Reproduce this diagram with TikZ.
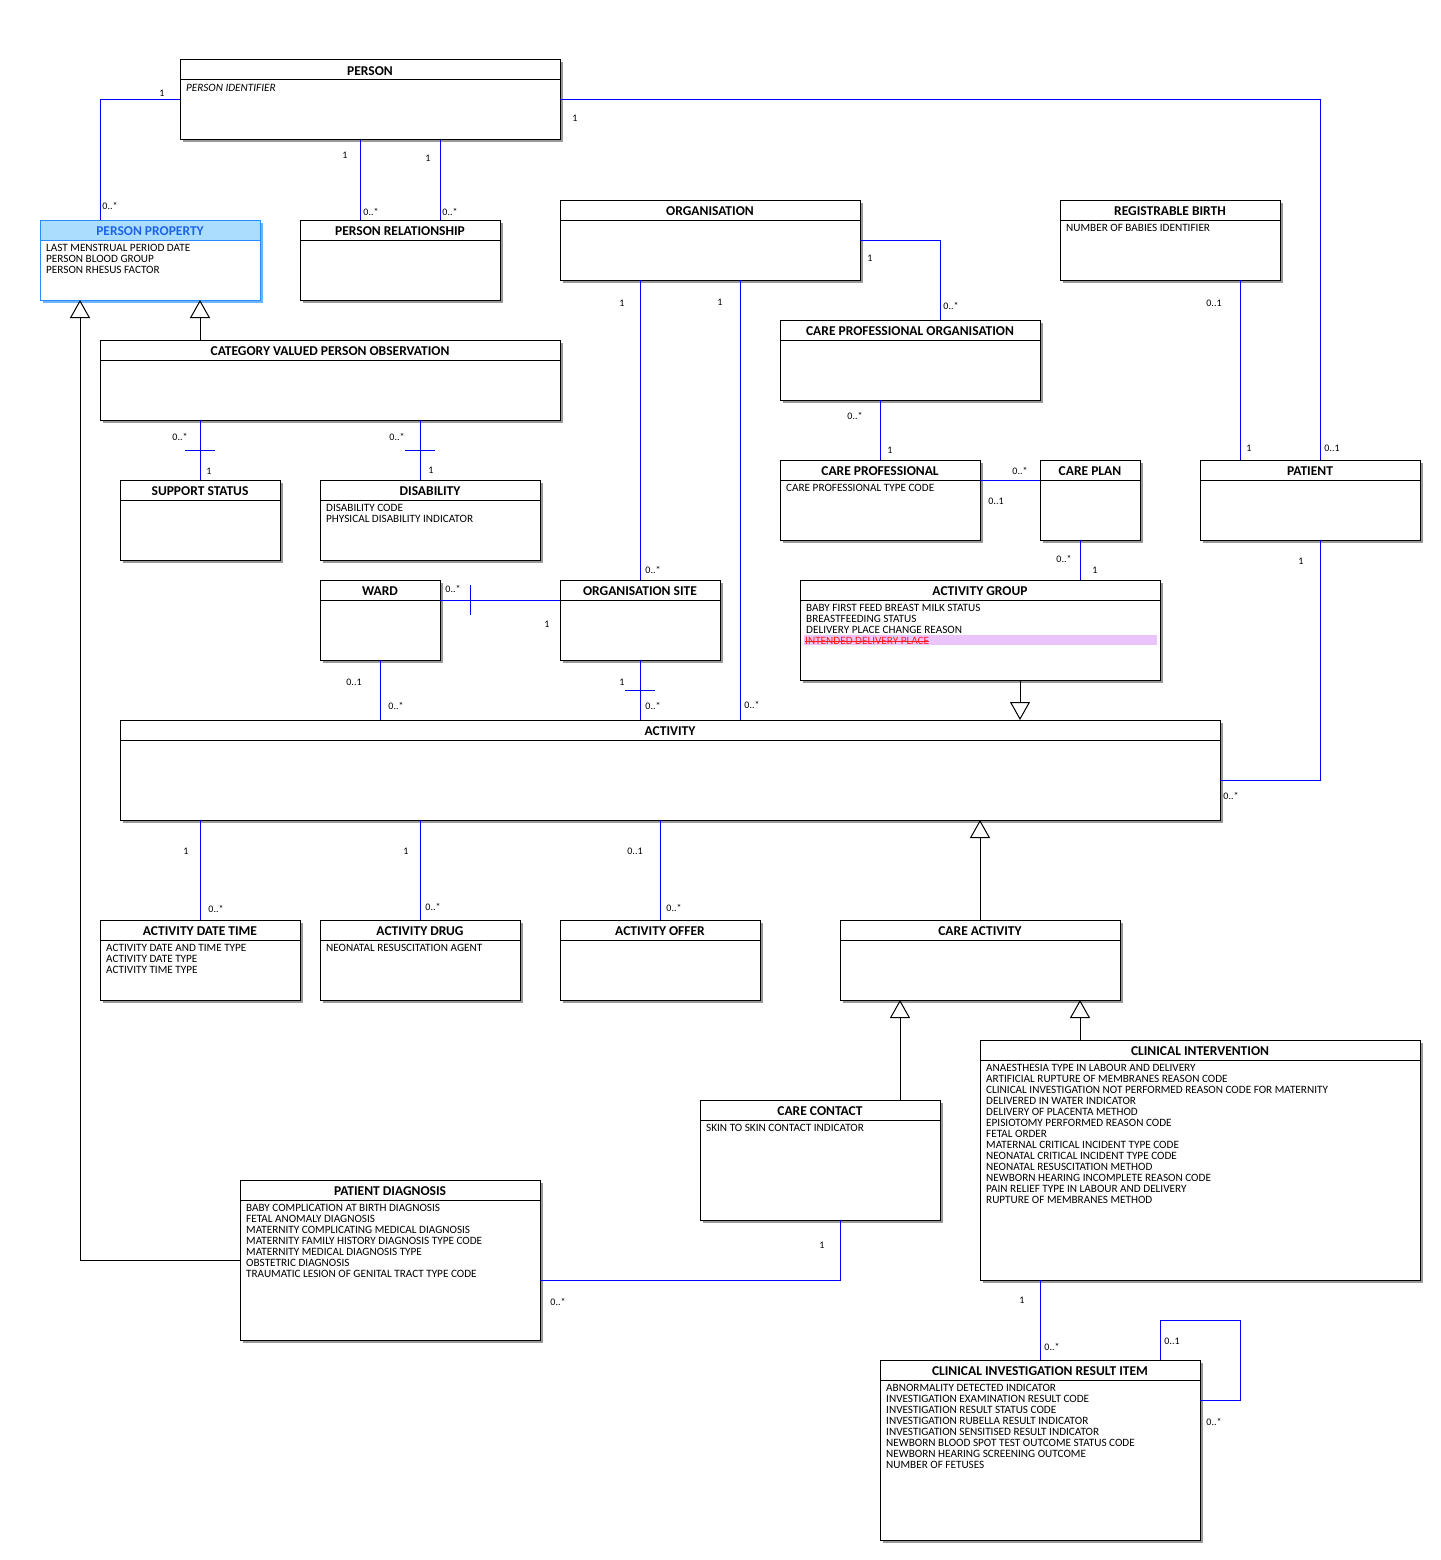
\documentclass[tikz,border=0pt]{standalone}
\usepackage{fontspec}
\setmainfont{Carlito}
\usetikzlibrary{arrows.meta,shadows}

\definecolor{assocblu}{RGB}{0,0,255}
\definecolor{pblu}{RGB}{40,140,255}
\definecolor{pbluchiaro}{RGB}{170,221,255}
\definecolor{pbluombra}{RGB}{110,180,255}
\definecolor{ptitolo}{RGB}{30,100,235}
\definecolor{rosa}{RGB}{234,196,250}
\definecolor{rosso}{RGB}{255,30,30}

\tikzset{
  classe base/.style={draw, fill=white, line width=1pt, anchor=north west, inner sep=0, outer sep=0},
  classe/.style={classe base, drop shadow={shadow xshift=2.5pt, shadow yshift=-2.5pt, fill=black!40, opacity=1}},
  titolo/.style={font=\bfseries\fontsize{13.5}{14}\selectfont, inner sep=0},
  attributi/.style={font=\fontsize{11.2}{11}\selectfont, align=left, anchor=north west, inner sep=0},
  mult/.style={font=\fontsize{10}{10}\selectfont, inner sep=0},
  assoc/.style={draw=assocblu, line width=1pt},
  gen/.style={draw=black, line width=1pt, -{Triangle[open, length=18pt, width=20pt]}},
}

% classe: nome, x, y, larghezza, altezza, titolo, attributi
\newcommand{\classe}[7]{%
  \node[classe, minimum width=#4, minimum height=#5] (#1) at (#2,#3) {};
  \draw[line width=1pt] ([yshift=-20]#1.north west) -- ([yshift=-20]#1.north east);
  \node[titolo] (#1-t) at ([yshift=-10.8]#1.north) {#6};
  \node[attributi] (#1-a) at ([xshift=6,yshift=-24.2]#1.north west) {#7};
}

\begin{document}
\begin{tikzpicture}[x=1pt, y=-1pt]
  \fill[white] (0,0) rectangle (1440,1560);
  \useasboundingbox (0,0) rectangle (1440,1560);

  % Classi
  \classe{person}{180}{60}{380}{80}{PERSON}{\itshape PERSON IDENTIFIER}
  \node[classe base, draw=pblu, drop shadow={shadow xshift=2.5pt, shadow yshift=-2.5pt, fill=pbluombra, opacity=1},
    path picture={\fill[pbluchiaro] (path picture bounding box.north west) rectangle ([yshift=-20]path picture bounding box.north east);},
    minimum width=220, minimum height=80] (ppty) at (40,220) {};
  \draw[pblu, line width=1pt] ([yshift=-20]ppty.north west) -- ([yshift=-20]ppty.north east);
  \node[titolo, text=ptitolo] (ppty-t) at ([yshift=-10.8]ppty.north) {PERSON PROPERTY};
  \node[attributi] (ppty-a) at ([xshift=6,yshift=-24.2]ppty.north west) {LAST MENSTRUAL PERIOD DATE\\PERSON BLOOD GROUP\\PERSON RHESUS FACTOR};
  \classe{pprel}{300}{220}{200}{80}{PERSON RELATIONSHIP}{}
  \classe{org}{560}{200}{300}{80}{ORGANISATION}{}
  \classe{regbirth}{1060}{200}{220}{80}{REGISTRABLE BIRTH}{NUMBER OF BABIES IDENTIFIER}
  \classe{cpo}{780}{320}{260}{80}{CARE PROFESSIONAL ORGANISATION}{}
  \classe{cvpo}{100}{340}{460}{80}{CATEGORY VALUED PERSON OBSERVATION}{}
  \classe{support}{120}{480}{160}{80}{SUPPORT STATUS}{}
  \classe{disab}{320}{480}{220}{80}{DISABILITY}{DISABILITY CODE\\PHYSICAL DISABILITY INDICATOR}
  \classe{carepro}{780}{460}{200}{80}{CARE PROFESSIONAL}{CARE PROFESSIONAL TYPE CODE}
  \classe{careplan}{1040}{460}{100}{80}{CARE PLAN}{}
  \classe{patient}{1200}{460}{220}{80}{PATIENT}{}
  \classe{ward}{320}{580}{120}{80}{WARD}{}
  \classe{orgsite}{560}{580}{160}{80}{ORGANISATION SITE}{}
  \classe{actgroup}{800}{580}{360}{100}{ACTIVITY GROUP}{BABY FIRST FEED BREAST MILK STATUS\\BREASTFEEDING STATUS\\DELIVERY PLACE CHANGE REASON}
  \fill[rosa] ([xshift=4,yshift=-55]actgroup.north west) rectangle ([xshift=-3,yshift=-65]actgroup.north east);
  \node[attributi, text=rosso] (strike) at ([xshift=5,yshift=-57.2]actgroup.north west) {INTENDED DELIVERY PLACE};
  \draw[rosso, line width=0.8pt] (strike.west) -- (strike.east);
  \classe{activity}{120}{720}{1100}{100}{ACTIVITY}{}
  \classe{adt}{100}{920}{200}{80}{ACTIVITY DATE TIME}{ACTIVITY DATE AND TIME TYPE\\ACTIVITY DATE TYPE\\ACTIVITY TIME TYPE}
  \classe{adrug}{320}{920}{200}{80}{ACTIVITY DRUG}{NEONATAL RESUSCITATION AGENT}
  \classe{aoffer}{560}{920}{200}{80}{ACTIVITY OFFER}{}
  \classe{careact}{840}{920}{280}{80}{CARE ACTIVITY}{}
  \classe{clinint}{980}{1040}{440}{240}{CLINICAL INTERVENTION}{ANAESTHESIA TYPE IN LABOUR AND DELIVERY\\ARTIFICIAL RUPTURE OF MEMBRANES REASON CODE\\CLINICAL INVESTIGATION NOT PERFORMED REASON CODE FOR MATERNITY\\DELIVERED IN WATER INDICATOR\\DELIVERY OF PLACENTA METHOD\\EPISIOTOMY PERFORMED REASON CODE\\FETAL ORDER\\MATERNAL CRITICAL INCIDENT TYPE CODE\\NEONATAL CRITICAL INCIDENT TYPE CODE\\NEONATAL RESUSCITATION METHOD\\NEWBORN HEARING INCOMPLETE REASON CODE\\PAIN RELIEF TYPE IN LABOUR AND DELIVERY\\RUPTURE OF MEMBRANES METHOD}
  \classe{carecontact}{700}{1100}{240}{120}{CARE CONTACT}{SKIN TO SKIN CONTACT INDICATOR}
  \classe{pdiag}{240}{1180}{300}{160}{PATIENT DIAGNOSIS}{BABY COMPLICATION AT BIRTH DIAGNOSIS\\FETAL ANOMALY DIAGNOSIS\\MATERNITY COMPLICATING MEDICAL DIAGNOSIS\\MATERNITY FAMILY HISTORY DIAGNOSIS TYPE CODE\\MATERNITY MEDICAL DIAGNOSIS TYPE\\OBSTETRIC DIAGNOSIS\\TRAUMATIC LESION OF GENITAL TRACT TYPE CODE}
  \classe{ciri}{880}{1360}{320}{180}{CLINICAL INVESTIGATION RESULT ITEM}{ABNORMALITY DETECTED INDICATOR\\INVESTIGATION EXAMINATION RESULT CODE\\INVESTIGATION RESULT STATUS CODE\\INVESTIGATION RUBELLA RESULT INDICATOR\\INVESTIGATION SENSITISED RESULT INDICATOR\\NEWBORN BLOOD SPOT TEST OUTCOME STATUS CODE\\NEWBORN HEARING SCREENING OUTCOME\\NUMBER OF FETUSES}

  % Associazioni
  \draw[assoc] (person.west) node[mult, shift={(-18,-7)}] {1}
    -| ([xshift=60]ppty.north west) node[mult, shift={(10,-14)}] {0..*};
  \draw[assoc] ([xshift=180]person.south west) node[mult, shift={(-15,15)}] {1}
    -- ([xshift=60]pprel.north west) node[mult, shift={(11,-8)}] {0..*};
  \draw[assoc] ([xshift=260]person.south west) node[mult, shift={(-12,18)}] {1}
    -- ([xshift=140]pprel.north west) node[mult, shift={(10,-8)}] {0..*};
  \draw[assoc] (person.east) node[mult, shift={(15,18)}] {1}
    -| ([xshift=120]patient.north west) node[mult, shift={(12,-12)}] {0..1};
  \draw[assoc] (org.east) node[mult, shift={(10,18)}] {1}
    -| ([xshift=160]cpo.north west) node[mult, shift={(11,-14)}] {0..*};
  \draw[assoc] ([xshift=80]org.south west) node[mult, shift={(-18,23)}] {1}
    -- ([xshift=80]orgsite.north west) node[mult, shift={(13,-10)}] {0..*};
  \draw[assoc] ([xshift=180]org.south west) node[mult, shift={(-20,22)}] {1}
    -- ([xshift=620]activity.north west) node[mult, shift={(12,-15)}] {0..*};
  \draw[assoc] ([xshift=180]regbirth.south west) node[mult, shift={(-26,23)}] {0..1}
    -- ([xshift=40]patient.north west) node[mult, shift={(9,-12)}] {1};
  \draw[assoc] ([xshift=100]cpo.south west) node[mult, shift={(-25,16)}] {0..*}
    -- ([xshift=100]carepro.north west) node[mult, shift={(10,-10)}] {1};
  \draw[assoc] ([yshift=-20]carepro.north east) node[mult, shift={(16,21)}] {0..1}
    -- ([yshift=-20]careplan.north west) node[mult, shift={(-20,-9)}] {0..*};
  \draw[assoc] ([xshift=40]careplan.south west) node[mult, shift={(-16,19)}] {0..*}
    -- ([xshift=280]actgroup.north west) node[mult, shift={(15,-10)}] {1};
  \draw[assoc] ([xshift=120]patient.south west) node[mult, shift={(-19,21)}] {1}
    |- ([yshift=-60]activity.north east) node[mult, shift={(11,16)}] {0..*};
  \draw[assoc] ([xshift=100]cvpo.south west) node[mult, shift={(-20,17)}] {0..*}
    -- ([xshift=80]support.north west) node[mult, shift={(9,-9)}] {1};
  \draw[assoc] ([xshift=85,yshift=-30]cvpo.south west) -- ++(30,0);
  \draw[assoc] ([xshift=320]cvpo.south west) node[mult, shift={(-23,17)}] {0..*}
    -- ([xshift=100]disab.north west) node[mult, shift={(11,-10)}] {1};
  \draw[assoc] ([xshift=305,yshift=-30]cvpo.south west) -- ++(30,0);
  \draw[assoc] ([yshift=-20]ward.north east) node[mult, shift={(13,-11)}] {0..*}
    -- ([yshift=-20]orgsite.north west) node[mult, shift={(-13,24)}] {1};
  \draw[assoc] ([xshift=30,yshift=-5]ward.north east) -- ++(0,30);
  \draw[assoc] (ward.south) node[mult, shift={(-26,22)}] {0..1}
    -- ([xshift=260]activity.north west) node[mult, shift={(16,-14)}] {0..*};
  \draw[assoc] ([xshift=80]orgsite.south west) node[mult, shift={(-18,22)}] {1}
    -- ([xshift=520]activity.north west) node[mult, shift={(13,-14)}] {0..*};
  \draw[assoc] ([xshift=65,yshift=-30]orgsite.south west) -- ++(30,0);
  \draw[assoc] ([xshift=80]activity.south west) node[mult, shift={(-14,31)}] {1}
    -- ([xshift=100]adt.north west) node[mult, shift={(16,-11)}] {0..*};
  \draw[assoc] ([xshift=300]activity.south west) node[mult, shift={(-14,31)}] {1}
    -- ([xshift=100]adrug.north west) node[mult, shift={(13,-13)}] {0..*};
  \draw[assoc] ([xshift=540]activity.south west) node[mult, shift={(-25,31)}] {0..1}
    -- ([xshift=100]aoffer.north west) node[mult, shift={(14,-12)}] {0..*};
  \draw[assoc] ([xshift=140]carecontact.south west) node[mult, shift={(-18,25)}] {1}
    |- ([yshift=-100]pdiag.north east) node[mult, shift={(18,22)}] {0..*};
  \draw[assoc] ([xshift=60]clinint.south west) node[mult, shift={(-18,20)}] {1}
    -- ([xshift=160]ciri.north west) node[mult, shift={(12,-13)}] {0..*};
  \draw[assoc] ([xshift=280]ciri.north west) node[mult, shift={(12,-19)}] {0..1}
    -- ++(0,-40) -| ([xshift=40,yshift=-40]ciri.north east)
    -- ([yshift=-40]ciri.north east) node[mult, shift={(14,22)}] {0..*};

  % Generalizzazioni
  \draw[gen] ([xshift=100]cvpo.north west) -- ([xshift=160]ppty.south west);
  \draw[gen] ([yshift=-80]pdiag.north west) -| ([xshift=40]ppty.south west);
  \draw[gen] ([xshift=220]actgroup.south west) -- ([xshift=900]activity.north west);
  \draw[gen] ([xshift=140]careact.north west) -- ([xshift=860]activity.south west);
  \draw[gen] ([xshift=200]carecontact.north west) -- ([xshift=60]careact.south west);
  \draw[gen] ([xshift=100]clinint.north west) -- ([xshift=240]careact.south west);
\end{tikzpicture}
\end{document}
